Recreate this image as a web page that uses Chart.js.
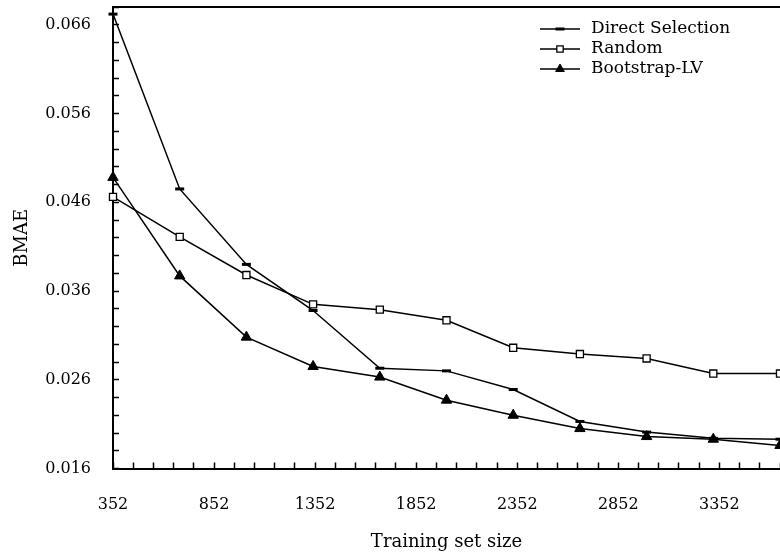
<!DOCTYPE html>
<html><head><meta charset="utf-8">
<script src="https://cdn.jsdelivr.net/npm/chart.js@4.4.1/dist/chart.umd.min.js"></script>
<style>html,body{margin:0;padding:0;background:#fff;}#wrap{width:780px;height:556px;overflow:hidden;}</style>
</head><body><div id="wrap"><canvas id="c" width="780" height="556"></canvas></div>
<script>
const trainingSizes = [352, 682, 1012, 1342, 1672, 2002, 2332, 2662, 2992, 3322, 3652];
const directSelection = [0.0672, 0.0475, 0.0390, 0.0338, 0.0273, 0.0270, 0.0249, 0.0213, 0.0201, 0.0194, 0.0193];
const randomSel = [0.0466, 0.0421, 0.0378, 0.0345, 0.0339, 0.0327, 0.0296, 0.0289, 0.0284, 0.0267, 0.0267];
const bootstrapLV = [0.0488, 0.0377, 0.0308, 0.0275, 0.0263, 0.0237, 0.0220, 0.0205, 0.0196, 0.0193, 0.0186];
const seriesNames = ['Direct Selection', 'Random', 'Bootstrap-LV'];
const xTickLabels = [352, 852, 1352, 1852, 2352, 2852, 3352];
const yTickLabels = [0.016, 0.026, 0.036, 0.046, 0.056, 0.066];
const xRange = [352, 3652];
const yRange = [0.016, 0.068];
const xMinorStep = 100;
const yMinorStep = 0.002;

const SERIF = "'DejaVu Serif', serif";
Chart.defaults.color = '#000';
Chart.defaults.font.family = SERIF;

function pts(values) { return trainingSizes.map((x, i) => ({x: x, y: values[i]})); }

const legendPlugin = {
  id: 'lineLegend',
  afterDraw(chart) {
    const ctx = chart.ctx;
    const ca = chart.chartArea;
    const x0 = ca.right - 240, x1 = ca.right - 200, tx = ca.right - 189;
    ctx.save();
    ctx.strokeStyle = '#000';
    ctx.lineWidth = 2;
    ctx.beginPath();
    ctx.moveTo(ca.left - 1, ca.top);
    ctx.lineTo(ca.right + 2, ca.top);
    ctx.stroke();
    chart.data.datasets.forEach((ds, i) => {
      const y = 29 + 20 * i;
      ctx.strokeStyle = '#000';
      ctx.lineWidth = 1.5;
      ctx.beginPath();
      ctx.moveTo(x0, y);
      ctx.lineTo(x1, y);
      ctx.stroke();
      ctx.fillStyle = ds.pointBackgroundColor;
      ctx.strokeStyle = ds.pointBorderColor;
      ctx.lineWidth = ds.pointBorderWidth;
      Chart.helpers.drawPoint(ctx, {pointStyle: ds.pointStyle, radius: ds.legendRadius, rotation: 0, borderWidth: ds.pointBorderWidth}, (x0 + x1) / 2, y);
      ctx.fillStyle = '#000';
      ctx.font = "17px " + SERIF;
      ctx.textAlign = 'left';
      ctx.textBaseline = 'middle';
      ctx.fillText(ds.label, tx, y);
    });
    ctx.restore();
  }
};

new Chart(document.getElementById('c'), {
  type: 'line',
  data: {
    datasets: [
      {label: seriesNames[0], data: pts(directSelection), borderColor: '#000', borderWidth: 1.5,
       pointStyle: 'line', pointRadius: 4.5, pointBorderWidth: 3, pointBorderColor: '#000', pointBackgroundColor: '#000', legendRadius: 4.5},
      {label: seriesNames[1], data: pts(randomSel), borderColor: '#000', borderWidth: 1.5,
       pointStyle: 'rect', pointRadius: 5, pointBorderWidth: 1.3, pointBorderColor: '#000', pointBackgroundColor: '#fff', legendRadius: 4.5},
      {label: seriesNames[2], data: pts(bootstrapLV), borderColor: '#000', borderWidth: 1.5,
       pointStyle: 'triangle', pointRadius: 6, pointBorderWidth: 1, pointBorderColor: '#000', pointBackgroundColor: '#000', legendRadius: 5}
    ]
  },
  options: {
    responsive: false,
    animation: false,
    clip: false,
    layout: {autoPadding: false, padding: {top: 7, right: 0, left: 0, bottom: 0}},
    elements: {line: {tension: 0, fill: false}},
    plugins: {legend: {display: false}, tooltip: {enabled: false}},
    scales: {
      x: {
        type: 'linear', min: xRange[0], max: xRange[1],
        afterBuildTicks(scale) {
          const t = [];
          for (let v = xRange[0]; v <= xRange[1] + 1e-6; v += xMinorStep) t.push({value: v});
          scale.ticks = t;
        },
        afterFit(scale) { scale.height = 87.5; scale.paddingLeft = 0; scale.paddingRight = 0; },
        ticks: {autoSkip: false, maxRotation: 0, padding: 33, font: {size: 16},
          callback: (v) => xTickLabels.includes(Math.round(v)) ? String(Math.round(v)) : ''},
        grid: {drawOnChartArea: false, drawTicks: true, tickLength: -6, tickColor: '#000', tickWidth: 1.5},
        border: {display: true, color: '#000', width: 2},
        title: {display: true, text: 'Training set size', font: {size: 18}, padding: 3, color: '#000'}
      },
      y: {
        type: 'linear', min: yRange[0], max: yRange[1],
        afterBuildTicks(scale) {
          const t = [];
          const n = Math.round((yRange[1] - yRange[0]) / yMinorStep);
          for (let k = 0; k <= n; k++) t.push({value: Math.round((yRange[0] + k * yMinorStep) * 1e6) / 1e6});
          scale.ticks = t;
        },
        afterFit(scale) { scale.width = 113; scale.paddingTop = 0; scale.paddingBottom = 0; },
        ticks: {autoSkip: false, padding: 28, font: {size: 16},
          callback: (v) => yTickLabels.some(t => Math.abs(t - v) < 1e-9) ? v.toFixed(3) : ''},
        grid: {drawOnChartArea: false, drawTicks: true, tickLength: -6, tickColor: '#000', tickWidth: 1.5},
        border: {display: true, color: '#000', width: 2},
        title: {display: true, text: 'BMAE', font: {size: 18}, padding: 12, color: '#000'}
      }
    }
  },
  plugins: [legendPlugin]
});
</script></body></html>
